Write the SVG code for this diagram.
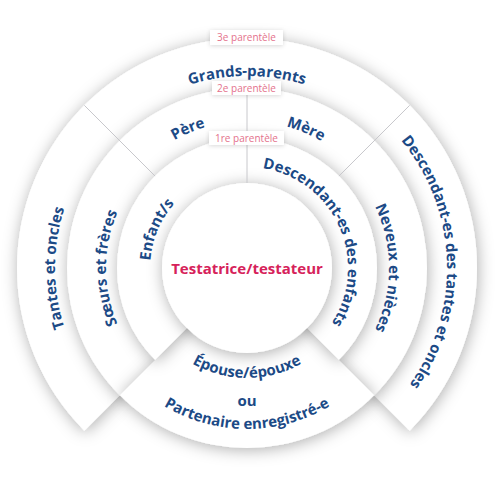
<svg xmlns="http://www.w3.org/2000/svg" width="500" height="500" viewBox="0 0 500 500">
<style>
.ring{fill:#ffffff;filter:url(#sh)}
.t{font-family:"Open Sans","Noto Sans","Liberation Sans",sans-serif;font-weight:700;font-size:15px;fill:#1c4a86}
.lbl{font-family:"Open Sans","Noto Sans","Liberation Sans",sans-serif;font-size:10px;fill:#e4718c}
.box{fill:#ffffff;filter:url(#sh2)}
.div{stroke:#c8c8cc;stroke-width:1;fill:none}
.title{font-family:"Open Sans","Noto Sans","Liberation Sans",sans-serif;font-weight:700;font-size:15px;fill:#d6225a}
</style>
<defs>
<filter id="sh" x="-30%" y="-30%" width="160%" height="160%">
<feGaussianBlur in="SourceAlpha" stdDeviation="8"/>
<feOffset dx="1" dy="2" result="b"/>
<feFlood flood-color="#000" flood-opacity="0.32"/>
<feComposite in2="b" operator="in"/>
<feMerge><feMergeNode/><feMergeNode in="SourceGraphic"/></feMerge>
</filter>
<filter id="sh2" x="-30%" y="-60%" width="160%" height="220%">
<feGaussianBlur in="SourceAlpha" stdDeviation="2"/>
<feOffset dx="0" dy="1" result="b"/>
<feFlood flood-color="#000" flood-opacity="0.15"/>
<feComposite in2="b" operator="in"/>
<feMerge><feMergeNode/><feMergeNode in="SourceGraphic"/></feMerge>
</filter>
<path id="pGP" d="M80.72,172 A192,192 0 0 1 413.28,172"/>
<path id="pPere" d="M129.61,179.54 A147,147 0 0 1 264.91,122.10"/>
<path id="pMere" d="M229.09,122.10 A147,147 0 0 1 364.40,179.53"/>
<path id="pEnf" d="M154.24,296.36 A97,97 0 0 1 202.96,181.57"/>
<path id="pDesEnf" d="M222.57,170 A101,101 0 0 1 303.48,351.73"/>
<path id="pSoeurs" d="M156.37,376.01 A141,141 0 0 1 156.37,159.99"/>
<path id="pTantes" d="M111.24,403.76 A192,192 0 0 1 111.24,132.24"/>
<path id="pNeveux" d="M338.28,159.22 A142,142 0 0 1 338.28,376.78"/>
<path id="pDesTantes" d="M340.89,91.41 A200,200 0 0 1 352.98,437.61"/>
<path id="pEpouse" d="M151.74,323 A110,110 0 0 0 342.26,323"/>
<path id="pPart" d="M123.67,371.49 A161,161 0 0 0 370.33,371.49"/>
</defs>
<rect width="500" height="500" fill="#ffffff"/>

<g id="ring3"><path class="ring" d="M247,268 L84.37,430.63 A230,230 0 1 1 409.63,430.63 Z"/></g>
<g id="ring2"><path class="ring" d="M247,268 L119.72,395.28 A180,180 0 1 1 374.28,395.28 Z"/></g>
<g id="spouse-shape"><path class="ring" d="M247,268 L374.28,395.28 A180,180 0 0 1 119.72,395.28 Z"/></g>
<g id="ring1"><path class="ring" d="M247,268 L155.08,359.92 A130,130 0 1 1 338.92,359.92 Z"/></g>
<g id="testator-shape"><circle class="ring" cx="247" cy="268" r="85"/></g>

<g id="connectors">
<line class="div" x1="247" y1="88" x2="247" y2="183"/>
<line class="div" x1="155.08" y1="176.08" x2="84.37" y2="105.37"/>
<line class="div" x1="338.92" y1="176.08" x2="409.63" y2="105.37"/>
</g>

<g id="label-3e"><rect class="box" x="210" y="30" width="73" height="15"/><text class="lbl" x="246.5" y="41" text-anchor="middle">3e parentèle</text></g>
<g id="label-2e"><rect class="box" x="212" y="81" width="69" height="14"/><text class="lbl" x="246.5" y="91.5" text-anchor="middle">2e parentèle</text></g>
<g id="label-1re"><rect class="box" x="209" y="131" width="75" height="14"/><text class="lbl" x="246.5" y="141.5" text-anchor="middle">1re parentèle</text></g>

<g id="grands-parents"><text class="t"><textPath href="#pGP" startOffset="50%" text-anchor="middle">Grands-parents</textPath></text></g>
<g id="pere"><text class="t"><textPath href="#pPere" startOffset="50%" text-anchor="middle">Père</textPath></text></g>
<g id="mere"><text class="t"><textPath href="#pMere" startOffset="50%" text-anchor="middle">Mère</textPath></text></g>
<g id="enfants"><text class="t"><textPath href="#pEnf" startOffset="50%" text-anchor="middle">Enfant/s</textPath></text></g>
<g id="descendants-enfants"><text class="t"><textPath href="#pDesEnf" startOffset="50%" text-anchor="middle">Descendant-es des enfants</textPath></text></g>
<g id="soeurs-freres"><text class="t"><textPath href="#pSoeurs" startOffset="50%" text-anchor="middle">Sœurs et frères</textPath></text></g>
<g id="tantes-oncles"><text class="t"><textPath href="#pTantes" startOffset="50%" text-anchor="middle">Tantes et oncles</textPath></text></g>
<g id="neveux-nieces"><text class="t"><textPath href="#pNeveux" startOffset="50%" text-anchor="middle">Neveux et nièces</textPath></text></g>
<g id="descendants-tantes-oncles"><text class="t"><textPath href="#pDesTantes" startOffset="50%" text-anchor="middle">Descendant-es des tantes et oncles</textPath></text></g>
<g id="spouse">
<text class="t"><textPath href="#pEpouse" startOffset="50%" text-anchor="middle">Épouse/épouxe</textPath></text>
<text class="t" x="247" y="406" text-anchor="middle">ou</text>
<text class="t"><textPath href="#pPart" startOffset="50%" text-anchor="middle">Partenaire enregistré-e</textPath></text>
</g>
<g id="testator"><text class="title" x="247" y="274" text-anchor="middle">Testatrice/testateur</text></g>
</svg>
